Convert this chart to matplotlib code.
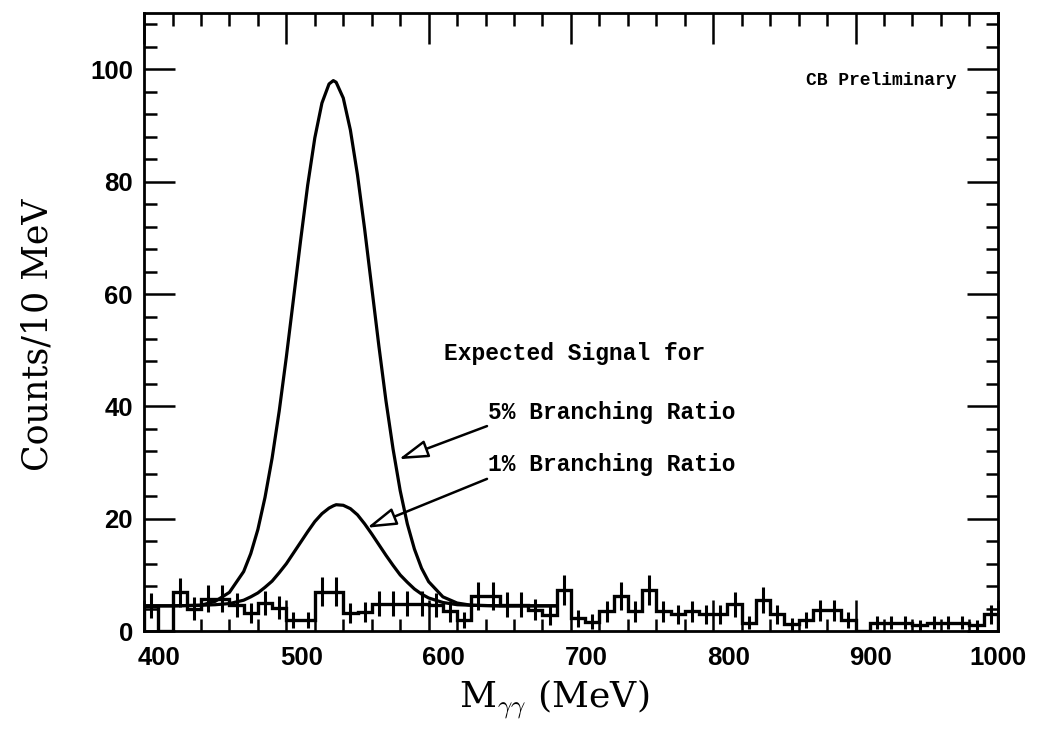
import numpy as np
import matplotlib.pyplot as plt
import matplotlib.transforms as mtransforms
from matplotlib.ticker import MultipleLocator

plt.rcParams['mathtext.fontset'] = 'cm'

# histogram of M_gg, 10 MeV bins from 400 to 1000
edges = np.arange(400, 1001, 10)
counts = [4.5, 0.0, 6.9, 4.0, 5.8, 5.8, 4.6, 3.2, 5.0, 4.2,
          2.0, 2.0, 7.0, 7.0, 3.2, 3.4, 4.9, 4.9, 4.9, 4.9,
          4.6, 3.5, 2.0, 6.3, 6.3, 4.7, 4.7, 3.8, 2.8, 7.3,
          2.3, 1.7, 3.5, 6.3, 3.5, 7.3, 3.5, 3.0, 3.5, 3.0,
          3.0, 4.8, 1.5, 5.5, 3.0, 1.2, 2.0, 3.7, 3.7, 2.0,
          0.0, 1.5, 1.5, 1.5, 1.0, 1.5, 1.5, 1.5, 1.0, 3.0]
errs = [2.2, 0.0, 2.6, 2.0, 2.4, 2.4, 2.1, 1.8, 2.2, 2.0,
        1.4, 1.4, 2.6, 2.6, 1.8, 1.8, 2.2, 2.2, 2.2, 2.2,
        2.1, 1.9, 1.4, 2.5, 2.5, 2.2, 2.2, 1.9, 1.7, 2.7,
        1.5, 1.3, 1.9, 2.5, 1.9, 2.7, 1.9, 1.7, 1.9, 1.7,
        1.7, 2.2, 1.2, 2.3, 1.7, 1.1, 1.4, 1.9, 1.9, 1.4,
        0.0, 1.2, 1.2, 1.2, 1.0, 1.2, 1.2, 1.2, 1.0, 1.7]

# expected signal curves
sig_x = [400, 420, 440, 450, 460, 470, 475, 480, 485, 490, 495, 500, 505,
         510, 515, 520, 525, 530, 533, 535, 540, 545, 550, 555, 560, 565,
         570, 575, 580, 585, 590, 595, 600, 610, 620, 630, 650, 670, 690]
sig5 = [4.5, 4.5, 4.6, 5.3, 6.9, 10.6, 13.8, 18.1, 23.8, 30.8, 39.2, 48.8, 59.1,
        69.5, 79.4, 87.8, 94.0, 97.4, 98.0, 97.7, 94.9, 89.2, 81.2, 71.6, 61.2, 50.8,
        41.0, 32.4, 25.0, 19.1, 14.6, 11.2, 8.8, 6.1, 5.0, 4.6, 4.5, 4.5, 4.5]
sig1 = [4.5, 4.5, 4.6, 4.7, 4.9, 5.5, 6.1, 6.8, 7.8, 8.9, 10.4, 12.0, 13.9,
        15.8, 17.7, 19.5, 20.9, 21.9, 22.3, 22.5, 22.4, 21.8, 20.7, 19.1, 17.3, 15.4,
        13.5, 11.7, 10.0, 8.7, 7.5, 6.6, 5.9, 5.1, 4.7, 4.6, 4.5, 4.5, 4.5]

xticks = [400, 500, 600, 700, 800, 900, 1000]

fig = plt.figure(figsize=(10.4, 7.33), dpi=100)
ax = fig.add_axes([0.1385, 0.139, 0.821, 0.843])

ax.stairs(counts, edges, color='black', lw=2.4, baseline=0)
centers = (edges[:-1] + edges[1:]) / 2
ax.errorbar(centers, counts, yerr=errs, fmt='none', ecolor='black',
            elinewidth=2.2, capsize=0)

ax.plot(sig_x, sig5, color='black', lw=2.3)
ax.plot(sig_x, sig1, color='black', lw=2.3)

ax.set_xlim(400, 1000)
ax.set_ylim(0, 110)
ax.set_xticks(xticks)
ax.xaxis.set_minor_locator(MultipleLocator(20))
ax.yaxis.set_major_locator(MultipleLocator(20))
ax.yaxis.set_minor_locator(MultipleLocator(4))
ax.tick_params(which='both', direction='in', top=True, right=True, width=1.8)
ax.tick_params(which='major', length=22, labelsize=18.5)
ax.tick_params(axis='x', which='major', pad=11)
ax.tick_params(axis='y', which='major', pad=8)
ax.tick_params(which='minor', length=9)
for s in ax.spines.values():
    s.set_linewidth(2.0)

# the scanned labels sit a little right of their ticks, except the last one
shift = mtransforms.ScaledTranslation(0.15, 0, fig.dpi_scale_trans)
for t in ax.xaxis.get_major_ticks()[:-1]:
    t.label1.set_transform(t.label1.get_transform() + shift)
for lab in ax.get_xticklabels() + ax.get_yticklabels():
    lab.set_family('Liberation Sans')
    lab.set_weight('bold')

ax.set_ylabel('Counts/10 MeV', family='DejaVu Serif', fontsize=25)
ax.set_xlabel(r'M$_{\gamma\gamma}$ (MeV)', family='DejaVu Serif', fontsize=26)
ax.yaxis.set_label_coords(-0.105, 0.48)
ax.xaxis.set_label_coords(0.48, -0.075)

mono = dict(family='Liberation Mono', weight='bold')
ax.text(971, 98, 'CB Preliminary', ha='right', va='center', fontsize=13, **mono)
ax.text(611, 49.4, 'Expected Signal for', ha='left', va='center', fontsize=16.5, **mono)
ax.text(642, 39, '5% Branching Ratio', ha='left', va='center', fontsize=16.5, **mono)
ax.text(642, 29.7, '1% Branching Ratio', ha='left', va='center', fontsize=16.5, **mono)

arrow = dict(arrowstyle='-|>,head_length=1.0,head_width=0.3', fc='white',
             ec='black', lw=1.8, shrinkA=0, shrinkB=0, mutation_scale=18)
ax.annotate('', xy=(579, 30.6), xytext=(641, 36.5), arrowprops=arrow)
ax.annotate('', xy=(556.7, 18.4), xytext=(641, 27.1), arrowprops=arrow)

fig.savefig('out.png', dpi=100)
